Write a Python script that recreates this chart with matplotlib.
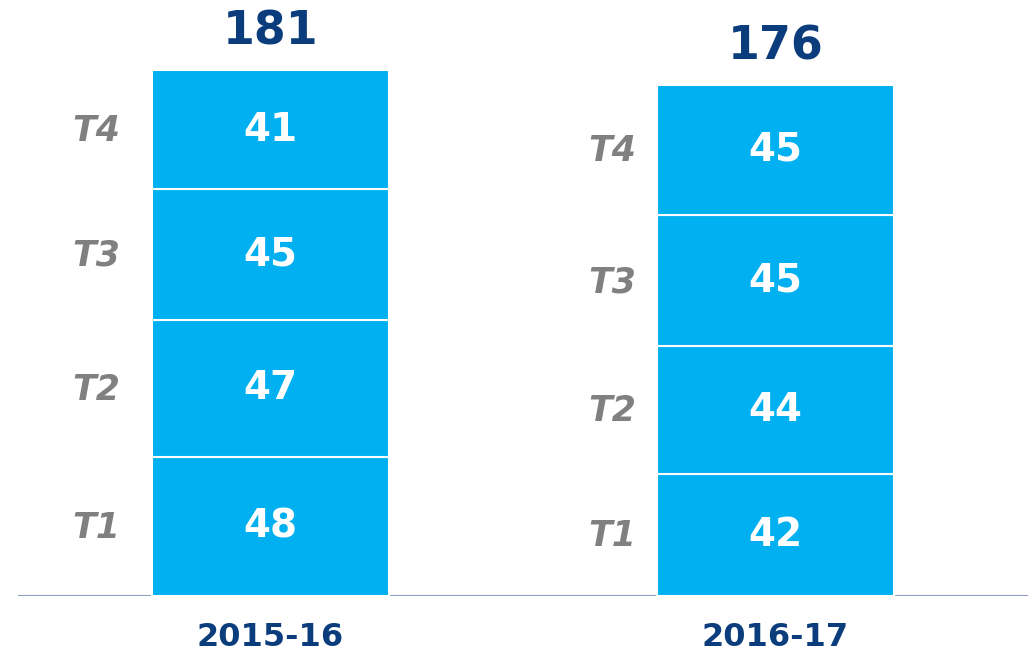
import matplotlib.pyplot as plt

years = ["2015-16", "2016-17"]
quarters = ["T1", "T2", "T3", "T4"]
# values per quarter, bottom to top
values = {
    "2015-16": [48, 47, 45, 41],
    "2016-17": [42, 44, 45, 45],
}

bar_color = "#00B0F0"
dark_blue = "#0B3D7C"
gray = "#808080"
label_gap_px = [32, 21]  # gap between T labels and bar left edge

W, H = 1033, 653
fig = plt.figure(figsize=(W / 100, H / 100), dpi=100)
ax = fig.add_axes([18 / W, 57 / H, 1010 / W, 596 / H])
ax.set_xlim(-0.5, 1.5)
ax.set_ylim(0, 205.1)
ax.axis("off")

width = 0.47

for i, yr in enumerate(years):
    vals = values[yr]
    bottom = 0
    for q, v in zip(quarters, vals):
        ax.bar(i, v, width=width, bottom=bottom, color=bar_color,
               edgecolor="white", linewidth=1.5)
        mid = bottom + v / 2
        ax.text(i, mid, str(v), ha="center", va="center", color="white",
                fontsize=28, fontweight="bold")
        ax.annotate(q, xy=(i - width / 2, mid), xytext=(-label_gap_px[i] * 0.72, -1),
                    textcoords="offset points", ha="right", va="center",
                    color=gray, fontsize=25, fontweight="bold", fontstyle="italic")
        bottom += v
    ax.annotate(str(sum(vals)), xy=(i, bottom), xytext=(0, 11),
                textcoords="offset points", ha="center", va="bottom",
                color=dark_blue, fontsize=33, fontweight="bold")
    ax.annotate(yr, xy=(i, 0), xytext=(0, -30), textcoords="offset points",
                ha="center", va="center", color=dark_blue, fontsize=23,
                fontweight="bold")

ax.axhline(0, color="#8C9DC2", linewidth=1.5, zorder=0)

fig.savefig("out.png", dpi=100)
